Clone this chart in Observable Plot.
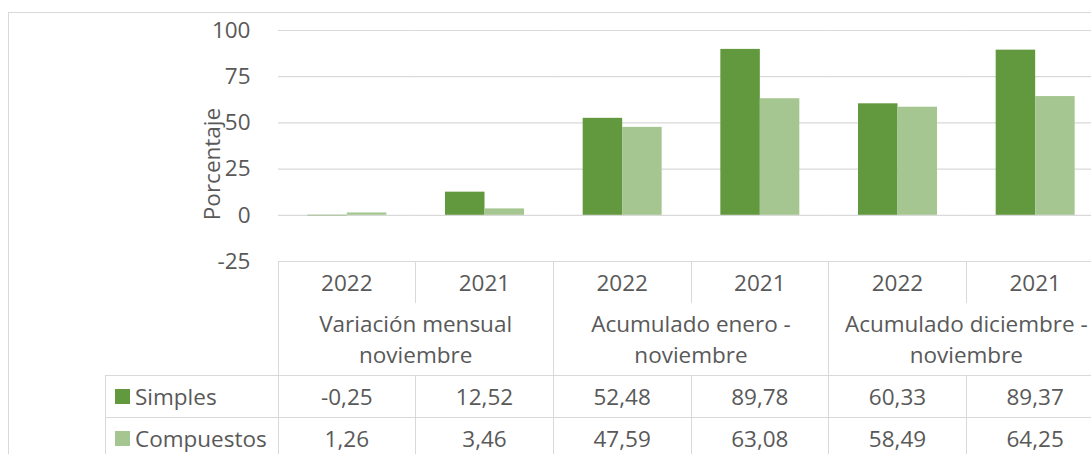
<!DOCTYPE html>
<html>
<head>
<meta charset="utf-8">
<script src="https://cdn.jsdelivr.net/npm/d3@7"></script>
<script src="https://cdn.jsdelivr.net/npm/@observablehq/plot@0.6"></script>
<style>
  html, body { margin: 0; padding: 0; background: #fff; }
  #wrap { position: relative; width: 1091px; height: 454px; overflow: hidden; font-family: "Open Sans", sans-serif; color: #595959; }
  #wrap > svg { position: absolute; left: 0; top: 0; }
  .ov { position: absolute; box-sizing: border-box; }
  .cell { position: absolute; display: flex; align-items: center; justify-content: center; text-align: center; font-size: 22.5px; line-height: 31px; white-space: nowrap; }
</style>
</head>
<body>
<div id="wrap"></div>
<script>
// ---- data ----
const groupLabels = [["Variación mensual", "noviembre"], ["Acumulado enero -", "noviembre"], ["Acumulado diciembre -", "noviembre"]];
const years = ["2022", "2021"];
const series = ["Simples", "Compuestos"];
const simples = [-0.25, 12.52, 52.48, 89.78, 60.33, 89.37];
const compuestos = [1.26, 3.46, 47.59, 63.08, 58.49, 64.25];
const yTicks = [-25, 0, 25, 50, 75, 100];
const colors = ["#62993e", "#a5c690"];
const yTitle = "Porcentaje";

// ---- derived table ----
const cols = [];
groupLabels.forEach((g, gi) => years.forEach((yr, yi) => cols.push({key: gi * 2 + yi, group: gi, year: yr})));
const values = [simples, compuestos];
const data = [];
cols.forEach((c, i) => series.forEach((s, si) => data.push({col: c.key, series: s, value: values[si][i]})));

const W = 1091, H = 454;
const gridColor = "#d9d9d9";

const plot = Plot.plot({
  width: W,
  height: H,
  marginTop: 30,
  marginBottom: 193,
  marginLeft: 278,
  marginRight: -13,
  style: {fontFamily: "Open Sans", color: "#595959", background: "transparent", overflow: "visible"},
  fx: {domain: cols.map(d => d.key), padding: 0, round: false, axis: null},
  x: {domain: series, paddingInner: 0, paddingOuter: 0.743, round: false, axis: null},
  y: {domain: [-25, 100], axis: null},
  color: {domain: series, range: colors},
  marks: [
    Plot.ruleY(yTicks, {stroke: gridColor, strokeWidth: 1.2}),
    Plot.barY(data, {fx: "col", x: "series", y: "value", fill: "series"}),
    Plot.axisY({ticks: yTicks, tickFormat: d => String(d), tickSize: 0, tickPadding: 28, fontSize: 22.5, label: null})
  ]
});

const wrap = document.getElementById("wrap");
wrap.appendChild(plot);

const fx = plot.scale("fx");
const ys = plot.scale("y");
const bw = fx.bandwidth;
const tableTop = ys.apply(-25);
const yearBottom = 303;
const groupBottom = 375;
const rowH = 42;
const tableLeft = fx.apply(cols[0].key);
const legendLeft = 105;

function el(cls, css, text) {
  const d = document.createElement("div");
  d.className = cls;
  Object.assign(d.style, css);
  if (text != null) d.textContent = text;
  wrap.appendChild(d);
  return d;
}
function hline(x1, x2, y) { el("ov", {left: x1 + "px", top: (y - 0.5) + "px", width: (x2 - x1) + "px", height: "1.3px", background: gridColor}); }
function vline(x, y1, y2) { el("ov", {left: (x - 0.5) + "px", top: y1 + "px", width: "1.3px", height: (y2 - y1) + "px", background: gridColor}); }

// chart border
el("ov", {left: "8px", top: "12px", width: "1200px", height: "600px", border: "1.3px solid " + gridColor});

// table lines
const right = W + 20;
hline(legendLeft, right, groupBottom);
hline(legendLeft, right, groupBottom + rowH);
vline(legendLeft, groupBottom, H + 10);
cols.forEach((c, i) => {
  const x = fx.apply(c.key);
  if (c.key % 2 === 0) vline(x, tableTop, H + 10);
  else { vline(x, tableTop, yearBottom); vline(x, groupBottom, H + 10); }
});

// year row
cols.forEach(c => {
  const x = fx.apply(c.key);
  el("cell", {left: x + "px", top: tableTop + "px", width: bw + "px", height: (yearBottom - tableTop) + "px"}, c.year);
});
// group row
groupLabels.forEach((g, gi) => {
  const x = fx.apply(gi * 2);
  const d = el("cell", {left: x + "px", top: yearBottom + "px", width: (bw * 2) + "px", height: (groupBottom - yearBottom) + "px", flexDirection: "column"});
  g.forEach(line => { const s = document.createElement("div"); s.textContent = line; d.appendChild(s); });
});
// series rows
const fmt = v => v.toFixed(2).replace(".", ",");
series.forEach((s, si) => {
  const top = groupBottom + si * rowH;
  const lab = el("cell", {left: legendLeft + "px", top: top + "px", width: (tableLeft - legendLeft) + "px", height: rowH + "px", justifyContent: "flex-start"});
  const sw = document.createElement("span");
  Object.assign(sw.style, {display: "inline-block", width: "15px", height: "15px", background: colors[si], marginLeft: "10px", marginRight: "5px"});
  lab.appendChild(sw);
  lab.appendChild(document.createTextNode(s));
  cols.forEach((c, i) => {
    const x = fx.apply(c.key);
    el("cell", {left: x + "px", top: top + "px", width: bw + "px", height: rowH + "px"}, fmt(values[si][i]));
  });
});

// y title
el("ov", {left: "211px", top: "164px", fontSize: "22.5px", whiteSpace: "nowrap", transform: "translate(-50%, -50%) rotate(-90deg)"}, yTitle);
</script>
</body>
</html>
